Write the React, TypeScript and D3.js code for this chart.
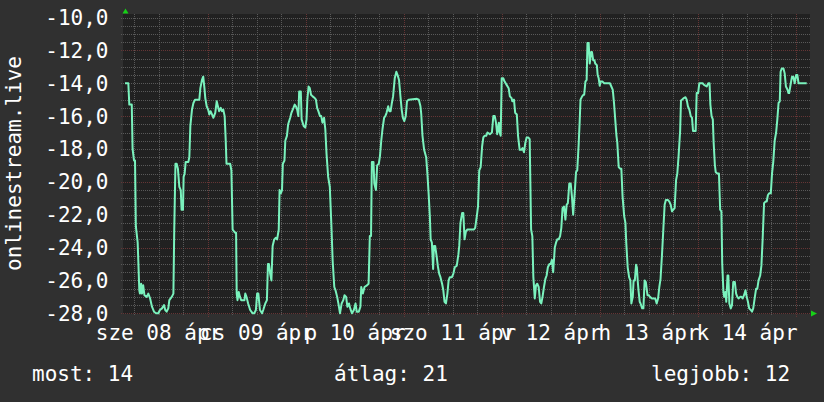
import React from "react";
import * as d3 from "d3";

// ---- data ----
const sampleHours = [
  0.24, 1.06, 1.3, 1.9, 2.1, 2.45, 2.7, 2.9, 3.35, 3.75, 3.9, 4.2, 4.4, 4.7, 5.0, 5.55, 5.95, 6.4, 6.85, 7.35,
  7.85, 8.4, 8.8, 9.3, 9.8, 10.1, 10.45, 10.85, 11.1, 11.7, 12.1, 12.3, 12.6, 12.9, 13.2, 13.55, 13.9, 14.1, 14.45, 14.6,
  14.85, 15.1, 15.75, 16.0, 16.25, 16.65, 17.0, 17.4, 18.45, 18.7, 19.1, 19.4, 19.7, 19.9, 20.25, 20.6, 20.9, 21.2, 21.55, 21.9,
  22.35, 22.7, 23.0, 23.3, 23.7, 24.0, 24.3, 24.65, 24.9, 25.1, 26.0, 26.3, 26.6, 27.2, 27.45, 27.6, 27.8, 28.1, 28.4, 28.7,
  29.5, 29.7, 30.0, 30.4, 30.9, 31.2, 31.5, 31.9, 32.3, 32.6, 32.9, 33.3, 33.8, 34.1, 34.6, 35.0, 35.25, 35.5, 35.8, 36.1,
  36.4, 36.8, 37.2, 37.5, 37.9, 38.1, 38.4, 38.7, 38.9, 39.3, 39.5, 39.9, 40.2, 40.7, 41.0, 41.5, 41.8, 42.1, 42.4, 42.7,
  42.9, 43.3, 43.5, 44.0, 44.4, 44.7, 44.9, 45.2, 45.5, 45.8, 46.2, 46.7, 47.0, 47.3, 47.6, 48.0, 48.3, 48.6, 49.0, 49.3,
  49.6, 50.0, 50.4, 50.8, 51.1, 51.5, 51.8, 52.2, 52.5, 52.9, 53.3, 53.7, 54.0, 54.4, 54.7, 55.1, 55.4, 55.84, 56.3, 56.7,
  57.0, 57.5, 57.9, 58.1, 58.5, 58.9, 59.5, 59.9, 60.2, 60.5, 60.7, 61.1, 61.3, 61.7, 62.0, 62.4, 62.7, 63.0, 63.3, 63.7,
  64.0, 64.3, 64.7, 65.0, 65.3, 65.6, 65.9, 66.3, 66.7, 67.0, 67.35, 67.7, 68.0, 68.3, 68.65, 69.0, 69.3, 69.7, 71.75, 72.2,
  72.6, 72.8, 73.1, 73.5, 74.0, 74.3, 74.6, 74.9, 75.1, 75.4, 75.7, 75.9, 76.2, 76.6, 76.9, 77.2, 77.5, 77.9, 78.2, 78.5,
  78.85, 79.2, 79.5, 79.8, 80.3, 80.65, 81.0, 81.5, 81.9, 82.1, 82.4, 82.8, 83.1, 83.4, 83.75, 84.1, 84.6, 84.9, 85.7, 86.0,
  86.4, 86.7, 87.0, 87.35, 87.7, 88.0, 88.3, 88.7, 89.0, 89.6, 90.1, 90.45, 90.8, 91.1, 91.4, 91.8, 92.0, 92.25, 92.5, 92.9,
  93.2, 93.7, 94.2, 94.5, 94.9, 95.1, 95.5, 95.8, 96.2, 96.5, 96.9, 97.3, 97.6, 97.95, 98.3, 98.6, 99.0, 99.35, 99.7, 100.0,
  100.25, 100.6, 100.9, 101.2, 101.55, 101.9, 102.2, 102.5, 102.85, 103.2, 103.5, 103.8, 104.2, 104.5, 104.8, 105.1, 105.5, 105.8, 106.1, 106.45,
  106.8, 107.1, 107.4, 107.75, 108.1, 108.4, 108.7, 109.05, 109.4, 109.7, 110.0, 110.4, 110.7, 111.0, 111.35, 111.6, 111.8, 112.2, 112.5, 112.7,
  113.0, 113.3, 113.5, 113.8, 114.05, 114.4, 114.6, 114.9, 115.2, 115.4, 115.8, 116.0, 116.25, 116.5, 116.7, 117.15, 117.6, 119.0, 119.35, 119.7,
  120.0, 120.3, 120.6, 120.8, 121.15, 121.5, 121.8, 122.1, 122.5, 122.8, 123.0, 123.35, 123.7, 124.0, 124.25, 124.6, 124.8, 125.1, 125.4, 125.6,
  125.8, 126.0, 126.3, 126.5, 126.9, 127.2, 127.5, 127.8, 128.2, 128.5, 128.8, 129.3, 130.1, 130.45, 130.8, 131.1, 131.4, 131.75, 132.1, 132.4,
  132.7, 133.2, 133.55, 133.9, 134.2, 134.5, 134.85, 135.2, 135.5, 135.8, 136.2, 136.4, 136.7, 137.1, 137.5, 137.8, 138.1, 138.45, 138.8, 139.1,
  139.35, 140.0, 140.25, 140.6, 140.9, 141.7, 142.05, 142.7, 143.1, 143.4, 143.6, 143.9, 144.2, 144.4, 144.7, 144.9, 145.3, 145.7, 146.0, 146.3,
  146.5, 146.8, 147.0, 147.3, 147.5, 147.8, 148.0, 148.25, 148.6, 148.9, 149.2, 149.6, 149.9, 150.2, 150.5, 150.9, 151.2, 151.5, 151.85, 152.2,
  152.5, 152.8, 153.1, 153.5, 153.8, 154.1, 154.5, 154.8, 155.1, 155.4, 155.8, 156.1, 156.4, 156.75, 157.1, 157.4, 157.7, 158.0, 158.4, 158.7,
  159.0, 159.35, 159.7, 160.0, 160.3, 160.6, 160.8, 161.1, 161.5, 161.8, 162.1, 162.5, 162.7, 162.9, 163.3, 163.6, 163.9, 164.25, 164.6, 164.9,
  165.2, 167.2,
];

const sampleValues = [
  -14.0, -14.0, -15.3, -15.3, -18.0, -18.7, -18.7, -22.7, -23.7, -26.6, -26.8, -26.2, -26.8, -26.3, -26.9, -27.0, -26.8, -27.1, -27.6, -27.9,
  -28.0, -28.0, -27.8, -27.7, -27.5, -27.8, -27.9, -27.7, -27.2, -27.0, -26.8, -23.0, -18.9, -18.9, -19.2, -20.3, -20.5, -21.7, -21.7, -19.7,
  -19.5, -18.8, -18.8, -18.5, -16.6, -15.6, -15.2, -15.0, -15.0, -14.3, -13.8, -13.6, -14.3, -14.9, -15.4, -15.6, -15.9, -15.7, -15.9, -16.1,
  -15.8, -15.1, -15.4, -15.7, -15.5, -15.7, -15.6, -16.0, -17.4, -18.9, -18.9, -19.3, -22.9, -23.1, -23.1, -26.8, -27.2, -26.7, -27.0, -27.2,
  -27.2, -26.8, -27.0, -27.4, -27.8, -27.9, -28.0, -28.0, -27.8, -26.8, -26.8, -27.8, -28.0, -27.8, -27.4, -27.2, -25.0, -25.0, -25.6, -26.0,
  -23.9, -23.5, -23.4, -23.5, -22.9, -20.5, -20.7, -20.5, -18.9, -18.7, -17.5, -17.2, -16.5, -16.1, -15.8, -15.5, -15.3, -15.4, -15.6, -16.0,
  -14.5, -14.5, -16.2, -16.6, -16.7, -16.2, -15.0, -14.2, -14.3, -14.7, -14.8, -14.9, -15.0, -15.5, -15.7, -16.0, -16.0, -16.4, -16.1, -16.8,
  -18.3, -19.7, -20.3, -22.7, -24.8, -26.4, -26.6, -27.0, -27.4, -28.0, -27.4, -27.2, -26.9, -27.0, -27.6, -27.4, -27.7, -28.0, -27.8, -27.4,
  -27.9, -27.9, -27.6, -26.4, -26.8, -26.4, -26.3, -26.2, -23.3, -23.3, -18.8, -18.8, -20.1, -20.5, -19.0, -18.9, -18.4, -17.5, -16.8, -16.1,
  -16.0, -15.8, -15.4, -15.7, -15.7, -15.2, -14.8, -13.7, -13.3, -13.5, -13.8, -14.8, -15.6, -16.1, -16.3, -16.0, -15.1, -15.0, -14.95, -15.0,
  -15.4, -15.9, -17.2, -18.05, -18.5, -19.5, -20.7, -22.1, -23.5, -23.7, -25.3, -23.9, -23.9, -24.6, -25.2, -25.6, -25.8, -26.2, -26.6, -27.3,
  -27.4, -26.8, -26.0, -25.8, -25.8, -25.6, -25.2, -25.1, -24.4, -23.9, -22.5, -21.9, -21.9, -23.5, -23.0, -22.9, -22.9, -22.9, -22.9, -22.8,
  -22.1, -21.5, -19.3, -19.1, -17.85, -17.3, -17.2, -17.2, -17.0, -17.1, -17.0, -16.0, -16.0, -16.4, -17.1, -16.4, -17.0, -17.2, -13.7, -13.7,
  -13.9, -14.1, -14.3, -14.8, -14.9, -15.1, -15.0, -15.8, -15.9, -17.2, -18.05, -18.05, -17.95, -18.2, -17.6, -17.3, -17.3, -17.4, -22.9, -23.3,
  -25.8, -27.1, -26.3, -26.2, -26.4, -27.3, -27.4, -27.0, -26.4, -25.9, -25.7, -25.2, -25.0, -25.0, -24.75, -25.5, -24.0, -23.7, -23.5, -23.5,
  -23.3, -22.8, -21.6, -21.5, -22.3, -21.4, -21.3, -20.1, -20.1, -20.9, -22.0, -20.6, -19.4, -19.3, -17.7, -16.3, -15.0, -14.8, -14.7, -14.7,
  -13.9, -13.8, -11.55, -11.55, -12.8, -12.1, -12.1, -12.6, -12.6, -12.8, -12.9, -13.5, -13.7, -14.15, -13.9, -13.9, -14.0, -14.0, -14.2, -14.4,
  -15.2, -16.2, -17.2, -17.6, -19.1, -19.2, -19.2, -20.9, -22.1, -22.5, -23.7, -25.2, -25.8, -26.0, -27.4, -27.0, -26.0, -26.0, -25.05, -25.2,
  -26.0, -26.6, -27.3, -27.4, -27.7, -27.7, -26.0, -26.1, -26.9, -26.9, -27.0, -27.1, -27.1, -27.4, -27.1, -26.4, -25.9, -24.45, -22.8, -21.4,
  -21.1, -21.1, -21.2, -21.4, -21.8, -21.7, -21.6, -19.9, -19.5, -18.5, -16.9, -15.05, -15.0, -14.9, -14.85, -15.0, -15.4, -15.6, -16.0, -16.1,
  -16.9, -16.9, -14.6, -14.6, -14.0, -14.0, -14.1, -14.2, -14.0, -14.0, -15.3, -16.0, -16.2, -17.6, -18.96, -19.4, -19.5, -19.5, -21.7, -21.8,
  -24.95, -26.7, -27.0, -26.7, -27.3, -25.7, -25.7, -27.4, -27.7, -27.5, -26.1, -26.1, -26.8, -27.0, -27.1, -27.0, -27.0, -27.1, -26.9, -26.6,
  -27.0, -27.3, -27.7, -27.8, -27.9, -27.7, -27.0, -26.5, -26.5, -26.0, -25.7, -25.1, -23.5, -21.3, -21.2, -21.2, -20.8, -20.7, -20.7, -19.5,
  -18.8, -17.5, -17.0, -16.2, -15.2, -15.1, -13.3, -13.1, -13.1, -13.4, -14.2, -14.4, -14.6, -14.6, -14.0, -13.6, -13.6, -14.0, -13.5, -13.5,
  -14.0, -14.0,
];

const xTickLabels = ["sze 08 ápr", "cs 09 ápr", "p 10 ápr", "szo 11 ápr", "v 12 ápr", "h 13 ápr", "k 14 ápr"];
const yTickValues = [-28, -26, -24, -22, -20, -18, -16, -14, -12, -10];
const legendLabels = ["most", "átlag", "legjobb"];
const legendValues = ["14", "21", "12"];
const axisTitle = "onlinestream.live";

// ---- layout ----
const W = 824;
const H = 402;
const FONT = "'DejaVu Sans Mono', monospace";
const BG = "#303030";
const PLOT_BG = "#212121";
const MINOR = "#595959";
const MAJOR = "#653535";
const LINE = "#7af2bd";
const TEXT = "#ffffff";
const ARROW = "#17d117";

const start = new Date(2020, 3, 8, 3, 26);
const end = d3.timeDay.offset(start, 7);

export default function App() {
  const x = d3.scaleTime().domain([start, end]).range([124, 810]);
  const y = d3.scaleLinear().domain([-28, -10]).range([313.3, 17.5]);

  const data = sampleHours.map((h, i) => ({ t: new Date(+start + h * 3600e3), v: sampleValues[i] }));
  const line = d3
    .line<{ t: Date; v: number }>()
    .x((d) => x(d.t))
    .y((d) => y(d.v));

  const hLines = d3.range(-28, -9.99, 0.5);
  const vLines = d3.timeHour.every(6)!.range(start, end);
  const days = d3.timeDay.range(d3.timeDay.floor(start), end);

  const px = (v: number) => Math.round(v) + 0.5;

  return (
    <div style={{ position: "absolute", left: 0, top: 0 }}>
      <svg width={W} height={H} style={{ display: "block" }}>
        <rect x={0} y={0} width={W} height={H} fill={BG} />
        <rect x={123} y={14} width={687} height={300} fill={PLOT_BG} />
        {/* horizontal grid */}
        {hLines.map((v, i) => {
          const major = Math.abs(((v + 28) % 4)) < 1e-6;
          return (
            <line
              key={"h" + i}
              x1={121}
              x2={810}
              y1={px(y(v))}
              y2={px(y(v))}
              stroke={major ? MAJOR : MINOR}
              strokeWidth={1}
              strokeDasharray="1,1"
            />
          );
        })}
        {/* vertical grid */}
        {vLines.map((t, i) => {
          const major = t.getHours() === 0;
          return (
            <line
              key={"v" + i}
              x1={px(x(t))}
              x2={px(x(t))}
              y1={14}
              y2={major ? 318 : 316}
              stroke={major ? MAJOR : MINOR}
              strokeWidth={1}
              strokeDasharray="1,1"
            />
          );
        })}
        {/* data line */}
        <path d={line(data) || ""} fill="none" stroke={LINE} strokeWidth={2} strokeLinejoin="round" />
        {/* arrows */}
        <path d={`M122.5,13.5 L125.5,8.5 L128.5,13.5 Z`} fill={ARROW} />
        <path d={`M811,310.5 L817,313.5 L811,316.5 Z`} fill={ARROW} />
        {/* y labels */}
        {yTickValues.map((v) => (
          <text
            key={"yl" + v}
            x={108.5}
            y={y(v) + 7.4}
            textAnchor="end"
            fontFamily={FONT}
            fontSize={21}
            fill={TEXT}
          >
            {v.toFixed(1).replace(".", ",")}
          </text>
        ))}
        {/* x labels */}
        {days.map((d, i) => (
          <text
            key={"xl" + i}
            x={x(d3.timeHour.offset(d, 12))}
            y={339.5}
            textAnchor="middle"
            fontFamily={FONT}
            fontSize={21}
            fill={TEXT}
          >
            {xTickLabels[i]}
          </text>
        ))}
        {/* axis title */}
        <text
          transform="translate(21,163.5) rotate(-90)"
          textAnchor="middle"
          fontFamily={FONT}
          fontSize={21}
          fill={TEXT}
        >
          {axisTitle}
        </text>
        {/* legend */}
        {legendLabels.map((l, i) => (
          <text
            key={"lg" + i}
            x={[32, 334, 651][i]}
            y={380.5}
            fontFamily={FONT}
            fontSize={21}
            fill={TEXT}
            style={{ whiteSpace: "pre" }}
          >
            {`${l}: ${legendValues[i]}`}
          </text>
        ))}
      </svg>
    </div>
  );
}
